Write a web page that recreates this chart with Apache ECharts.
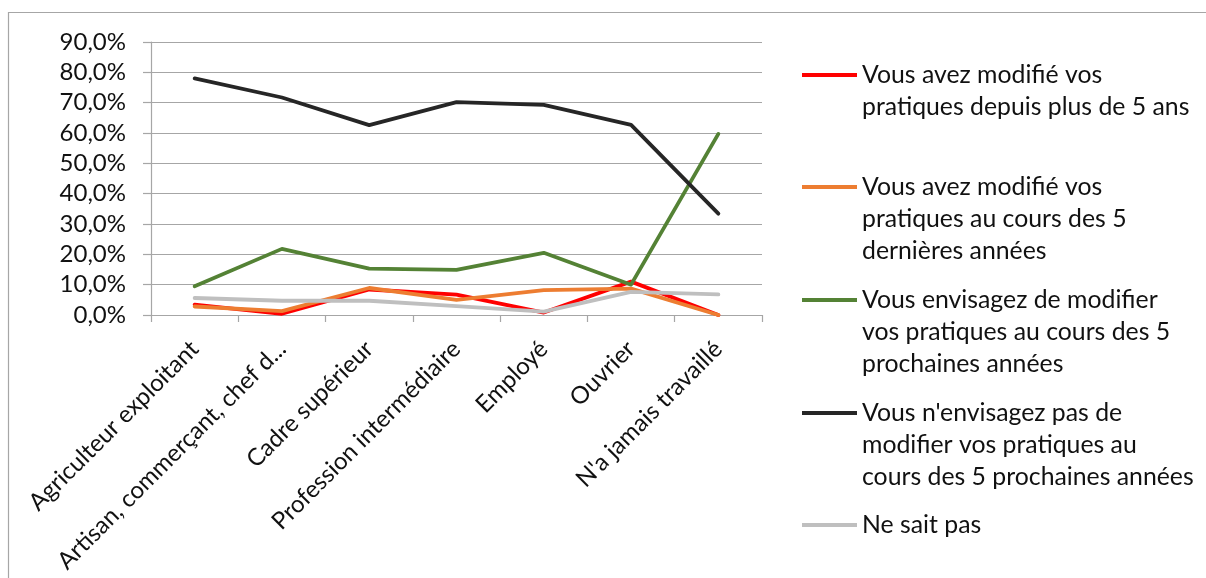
<!DOCTYPE html>
<html>
<head>
<meta charset="utf-8">
<script src="https://cdn.jsdelivr.net/npm/echarts@6/dist/echarts.min.js"></script>
<style>
  html, body { margin: 0; padding: 0; background: #fff; }
  #chart { width: 1206px; height: 578px; }
</style>
</head>
<body>
<div id="chart"></div>
<script>
// Catégories socio-professionnelles (axe horizontal)
const categories = [
  "Agriculteur exploitant",
  "Artisan, commerçant, chef d...",
  "Cadre supérieur",
  "Profession intermédiaire",
  "Employé",
  "Ouvrier",
  "N'a jamais travaillé"
];

// Noms des séries, tels qu'affichés dans la légende (retours à la ligne compris)
const seriesNames = [
  "Vous avez modifié vos\npratiques depuis plus de 5 ans",
  "Vous avez modifié vos\npratiques au cours des 5\ndernières années",
  "Vous envisagez de modifier\nvos pratiques au cours des 5\nprochaines années",
  "Vous n'envisagez pas de\nmodifier vos pratiques au\ncours des 5 prochaines années",
  "Ne sait pas"
];

// Valeurs en pourcentage
const modifiePlus5Ans   = [3.4, 0.4, 8.4, 6.7, 0.8, 11.0, 0.0];
const modifie5Dernieres = [2.8, 1.3, 8.9, 5.0, 8.2, 8.7, 0.0];
const envisage          = [9.5, 21.8, 15.3, 14.9, 20.5, 10.0, 59.7];
const nEnvisagePas      = [78.0, 71.7, 62.6, 70.2, 69.3, 62.7, 33.4];
const neSaitPas         = [5.6, 4.7, 4.7, 2.9, 1.1, 7.6, 6.8];

// Graduations de l'axe vertical
const yMin = 0, yMax = 90, yStep = 10;

const seriesValues = [modifiePlus5Ans, modifie5Dernieres, envisage, nEnvisagePas, neSaitPas];
const seriesColors = ["#FF0000", "#ED7D31", "#548235", "#262626", "#BFBFBF"];

const FONT = "Lato";
const FS = 24;
const LEGEND_FS = 24.8;
const LH = 32;

// Une légende par série, l'icône alignée sur la première ligne du texte
const legendCenters = [75, 187, 300, 413, 525];
const legends = seriesNames.map((name, i) => {
  const n = name.split("\n").length;
  const lines = 2 * n - 1;
  return {
    data: [name],
    orient: "vertical",
    left: 802,
    top: legendCenters[i] - lines * LH / 2,
    padding: 0,
    icon: "rect",
    itemWidth: 55,
    itemHeight: 4,
    selectedMode: false,
    formatter: (t) => "\n".repeat(n - 1) + t,
    textStyle: { fontFamily: FONT, fontSize: LEGEND_FS, lineHeight: LH, color: "#111" }
  };
});

const chart = echarts.init(document.getElementById("chart"), null, { renderer: "canvas" });

chart.setOption({
  animation: false,
  backgroundColor: "#fff",
  color: seriesColors,
  textStyle: { fontFamily: FONT },
  graphic: [{
    type: "rect",
    shape: { x: 8.5, y: 12.5, width: 1400, height: 800 },
    style: { fill: null, stroke: "#A6A6A6", lineWidth: 1.2 },
    silent: true,
    z: -10
  }],
  legend: legends,
  grid: {
    left: 151, top: 42, width: 611, height: 273,
    containLabel: false,
    outerBoundsMode: "none"
  },
  xAxis: {
    type: "category",
    data: categories,
    boundaryGap: true,
    axisLine: { lineStyle: { color: "#A6A6A6", width: 1.2 } },
    axisTick: { show: true, length: 7, lineStyle: { color: "#A6A6A6", width: 1.2 } },
    axisLabel: {
      interval: 0,
      rotate: 45,
      margin: 30,
      fontFamily: FONT,
      fontSize: FS,
      color: "#111"
    }
  },
  yAxis: {
    type: "value",
    min: yMin,
    max: yMax,
    interval: yStep,
    axisLine: { show: true, lineStyle: { color: "#A6A6A6", width: 1.2 } },
    axisTick: { show: true, length: 8, lineStyle: { color: "#A6A6A6", width: 1.2 } },
    splitLine: { show: true, lineStyle: { color: "#A6A6A6", width: 1.2 } },
    axisLabel: {
      margin: 25,
      fontFamily: FONT,
      fontSize: FS,
      color: "#111",
      formatter: (v) => v.toFixed(1).replace(".", ",") + "%"
    }
  },
  series: seriesNames.map((name, i) => ({
    name: name,
    type: "line",
    data: seriesValues[i],
    symbol: "none",
    smooth: false,
    lineStyle: { width: 3.8, color: seriesColors[i], cap: "round", join: "round" },
    itemStyle: { color: seriesColors[i] },
    emphasis: { disabled: true },
    z: 2 + i
  }))
});
</script>
</body>
</html>
